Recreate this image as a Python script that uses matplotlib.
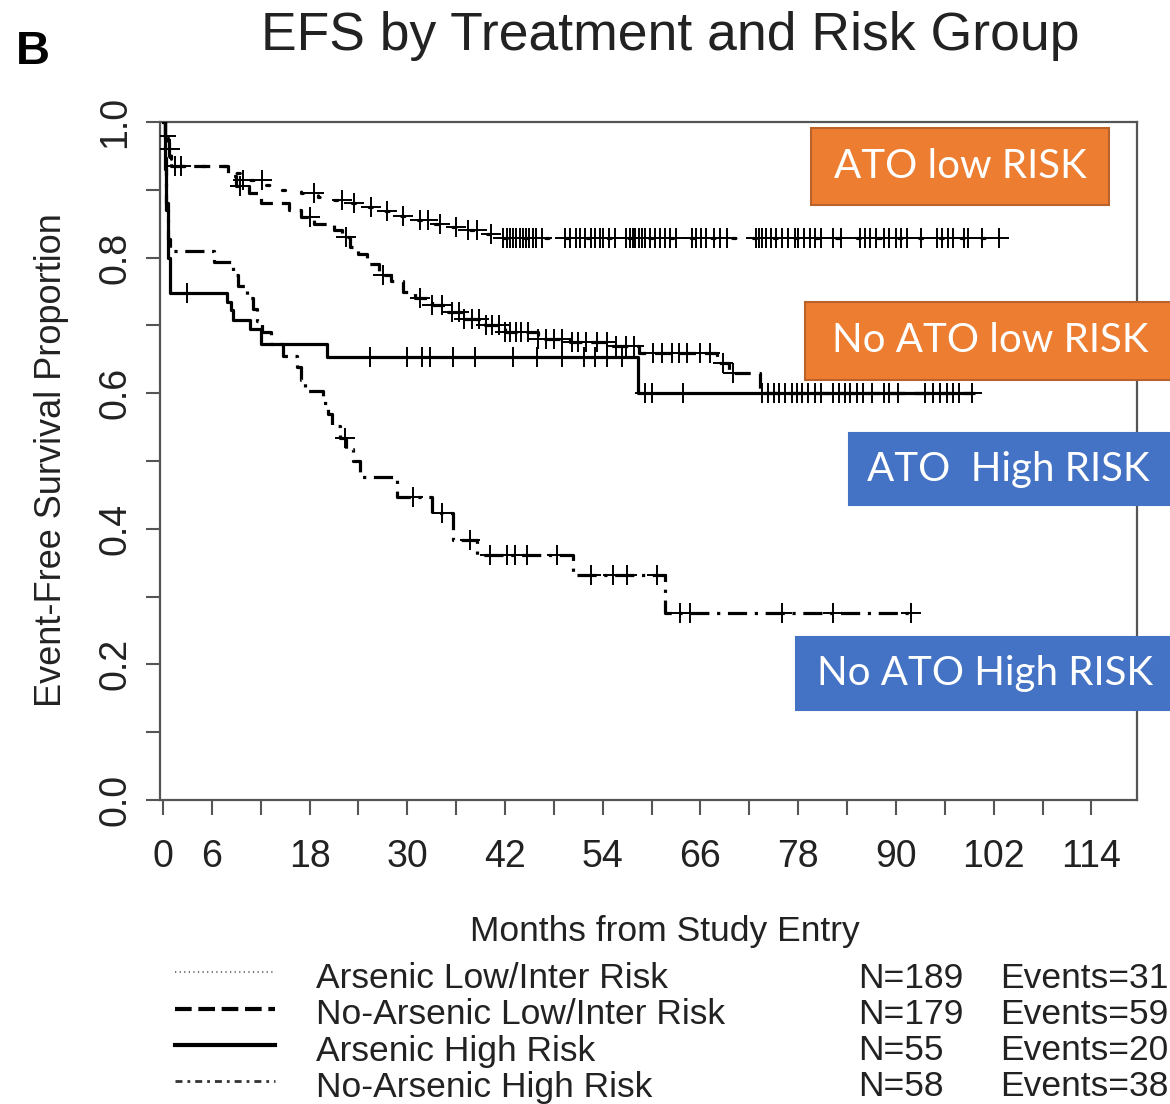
import numpy as np
import matplotlib
matplotlib.use('Agg')
import matplotlib.pyplot as plt
from matplotlib.lines import Line2D
from matplotlib.patches import Rectangle

W, H = 1170, 1104

# ---------------- data ----------------
# Kaplan-Meier knots: time (months) and survival after the step
ali_t = [0, 0.3, 0.6, 1.0, 8.5, 9.5, 12.5, 14, 17, 19, 21, 23, 25, 27, 29, 31, 33, 35, 37, 39, 40.5]
ali_s = [1.0, 0.98, 0.96, 0.935, 0.925, 0.915, 0.907, 0.90, 0.895, 0.89, 0.885, 0.88, 0.875, 0.868,
         0.862, 0.856, 0.85, 0.845, 0.84, 0.835, 0.829]
ali_end = 102.6
ali_cens = [0.4, 0.8, 1.5, 2.2, 9.8, 12.2, 18.5, 22, 23.5, 25.5, 27.5, 29.5, 31.5, 32.5, 34, 36, 37.5,
            38.5, 40.3, 41.8, 42.2, 42.6, 43.0, 43.4, 43.8, 44.2, 44.6, 45.0, 45.4, 45.8, 46.5, 49.4,
            50.0, 50.7, 51.2, 51.8, 52.5, 53.0, 53.6, 54.0, 54.8, 55.5, 56.9, 57.3, 57.7, 58.0, 58.4,
            58.8, 59.2, 59.8, 60.4, 61.0, 61.6, 62.3, 63.0, 64.9, 65.5, 66.1, 66.7, 67.7, 68.4, 69.2,
            72.8, 73.2, 73.6, 74.0, 74.6, 75.3, 76.0, 76.8, 77.6, 78.0, 78.7, 79.4, 80.1, 80.8, 82.3,
            83.3, 85.6, 86.2, 86.8, 87.5, 88.5, 89.2, 90.0, 90.6, 91.3, 93.1, 95.0, 95.7, 96.4, 97.0,
            98.3, 98.8, 100.6, 102.6]

nli_t = [0, 0.3, 0.7, 1.0, 8.0, 9.0, 10.5, 12, 15.5, 17, 18.5, 21, 22, 23, 24, 25, 26.5, 28, 29.5, 31,
         33, 35, 37, 39.5, 42, 46, 50, 55, 58.5, 68, 69.5, 73.3]
nli_s = [1.0, 0.97, 0.95, 0.935, 0.92, 0.905, 0.895, 0.88, 0.87, 0.86, 0.85, 0.84, 0.83, 0.815, 0.805,
         0.79, 0.775, 0.765, 0.75, 0.74, 0.73, 0.72, 0.71, 0.70, 0.69, 0.68, 0.675, 0.67, 0.66, 0.645,
         0.63, 0.60]
nli_end = 99.7
nli_cens = [9.5, 18.0, 22.5, 27.0, 31.5, 33.0, 34.2, 35.5, 36.3, 37.0, 38.0, 38.8, 39.6, 40.4, 41.2,
            42.0, 42.6, 43.3, 44.0, 44.8, 46.0, 47.0, 48.0, 49.0, 50.2, 51.0, 52.0, 53.3, 54.5, 55.6,
            56.8, 57.8, 60.2, 61.3, 62.5, 63.4, 64.4, 66.0, 67.2, 68.8, 70.0, 73.6, 74.3, 75.0, 75.7,
            76.4, 77.2, 77.9, 78.5, 79.2, 80.0, 80.8, 82.3, 83.0, 83.7, 84.4, 85.2, 86.0, 87.0, 88.5,
            89.2, 90.3, 93.6, 94.5, 95.4, 96.3, 97.0, 97.8, 99.3]

ah_t = [0, 0.2, 0.4, 0.6, 0.9, 7.9, 8.3, 8.6, 10.7, 12.0, 20.1, 58.3]
ah_s = [1.0, 0.93, 0.87, 0.80, 0.748, 0.735, 0.722, 0.708, 0.695, 0.672, 0.653, 0.60]
ah_end = 99.0
ah_cens = [2.9, 25.4, 30.0, 31.8, 32.8, 35.6, 38.3, 43.0, 45.9, 49.0, 51.7, 53.0, 54.5, 56.4,
           59.2, 60.0, 63.9]

nah_t = [0, 0.2, 0.4, 0.6, 0.8, 6.2, 8.6, 9.2, 10.3, 11.0, 11.6, 12.2, 13.3, 14.7, 16.4, 16.9, 17.4,
         19.7, 20.3, 20.8, 21.7, 22.5, 23.3, 24.2, 28.7, 33.0, 35.6, 38.5, 50.4, 61.7]
nah_s = [1.0, 0.95, 0.88, 0.828, 0.81, 0.793, 0.775, 0.758, 0.74, 0.724, 0.707, 0.69, 0.672, 0.655,
         0.638, 0.62, 0.603, 0.586, 0.569, 0.552, 0.534, 0.517, 0.50, 0.476, 0.447, 0.423, 0.383,
         0.361, 0.332, 0.276]
nah_end = 91.8
nah_cens = [22.4, 30.7, 34.3, 37.7, 40.2, 42.3, 43.2, 44.7, 48.4, 52.5, 55.3, 57.0, 60.7, 63.5, 64.7,
            76.0, 82.3, 91.8]

legend_labels = ["Arsenic Low/Inter Risk", "No-Arsenic Low/Inter Risk", "Arsenic High Risk",
                 "No-Arsenic High Risk"]
legend_n = ["N=189", "N=179", "N=55", "N=58"]
legend_events = ["Events=31", "Events=59", "Events=20", "Events=38"]

box_labels = ["ATO low RISK", "No ATO low RISK", "ATO  High RISK", "No ATO High RISK"]

x_ticks = list(range(0, 120, 6))
x_ticklabels = ["0", "6", "", "18", "", "30", "", "42", "", "54", "", "66", "", "78", "", "90", "",
                "102", "", "114"]
y_ticks = [round(0.1 * i, 1) for i in range(11)]
y_ticklabels = ["0.0", "", "0.2", "", "0.4", "", "0.6", "", "0.8", "", "1.0"]

# ---------------- figure ----------------
def fx(px):
    return px / W

def fy(py):
    return 1 - py / H

TXT = '#222222'
FAM = 'Liberation Sans'

fig = plt.figure(figsize=(W / 100, H / 100), dpi=100)
ax = fig.add_axes([fx(160), fy(800), fx(1137) - fx(160), fy(122) - fy(800)])

LW = 2.3
styles = {
    'ali': dict(ls=(0, (1.0, 5.5)), dash_capstyle='round'),
    'nli': dict(ls=(0, (5.0, 2.8))),
    'ah': dict(ls='-'),
    'nah': dict(ls=(0, (6.0, 2.4, 1.0, 2.4))),
}

def km_value(t_knots, s_knots, t):
    idx = np.searchsorted(np.asarray(t_knots), np.asarray(t), side='right') - 1
    return np.asarray(s_knots)[idx]

groups = [
    ('ali', ali_t, ali_s, ali_end, ali_cens),
    ('nli', nli_t, nli_s, nli_end, nli_cens),
    ('ah', ah_t, ah_s, ah_end, ah_cens),
    ('nah', nah_t, nah_s, nah_end, nah_cens),
]
for key, t, s, end, cens in groups:
    tt = list(t) + [end]
    ss = list(s) + [s[-1]]
    ax.step(tt, ss, where='post', color='black', lw=LW, **styles[key], zorder=3)
    ax.plot(cens, km_value(t, s, cens), ls='none', marker='+', ms=15, mew=1.4,
            color='black', zorder=4)

ax.set_xlim(-0.37, 119.6)
ax.set_ylim(0, 1.0)
ax.set_xticks(x_ticks)
ax.set_xticklabels(x_ticklabels)
ax.set_yticks(y_ticks)
ax.set_yticklabels(y_ticklabels)
for sp in ax.spines.values():
    sp.set_color('#555555')
    sp.set_linewidth(1.6)
ax.tick_params(axis='x', direction='out', length=11, width=1.5, color='#555555',
               labelsize=27, pad=17, labelcolor=TXT)
ax.tick_params(axis='y', direction='out', length=10, width=1.5, color='#555555',
               labelsize=27, pad=9, labelrotation=90, labelcolor=TXT)
for lab in ax.get_yticklabels():
    lab.set_verticalalignment('center')
for lab in ax.get_xticklabels() + ax.get_yticklabels():
    lab.set_fontfamily(FAM)

fig.text(fx(52), fy(460), "Event-Free Survival Proportion", rotation=90, ha='center', va='center',
         fontsize=26, family=FAM, color=TXT)
fig.text(fx(665), fy(932), "Months from Study Entry", ha='center', va='center',
         fontsize=25.5, family=FAM, color=TXT)
fig.text(fx(670), fy(36), "EFS by Treatment and Risk Group", ha='center', va='center',
         fontsize=38.5, family=FAM, color=TXT)
fig.text(fx(33), fy(52), "B", ha='center', va='center', fontsize=34, fontweight='bold',
         family=FAM, color='black')

# legend (drawn manually)
rows_y = [978, 1015, 1051, 1087]
leg_styles = [dict(ls=(0, (0.6, 1.6)), lw=1.5, color='#777777'),
              dict(ls=(0, (4.0, 1.6)), lw=3.0, color='black'),
              dict(ls='-', lw=3.0, color='black'),
              dict(ls=(0, (2.5, 1.8, 1.0, 1.8)), lw=2.0, color='#333333')]
for i, y in enumerate(rows_y):
    fig.add_artist(Line2D([fx(175), fx(275)], [fy(y - 6), fy(y - 6)], **leg_styles[i]))
    fig.text(fx(316), fy(y), legend_labels[i], ha='left', va='center', fontsize=25.5,
             family=FAM, color=TXT)
    fig.text(fx(858), fy(y), legend_n[i], ha='left', va='center', fontsize=25.5,
             family=FAM, color=TXT)
    fig.text(fx(1000), fy(y), legend_events[i], ha='left', va='center', fontsize=25.5,
             family=FAM, color=TXT)

# coloured annotation boxes
boxes = [(811, 128, 1109, 205, '#ED7D31', '#B9632A'),
         (805, 302, 1172, 380, '#ED7D31', '#B9632A'),
         (849, 433, 1172, 505, '#4472C4', '#4472C4'),
         (796, 637, 1172, 710, '#4472C4', '#4472C4')]
text_cx = [960, 990, 1008, 985]
for (x0, y0, x1, y1, fc, ec), lab, cx in zip(boxes, box_labels, text_cx):
    fig.add_artist(Rectangle((fx(x0), fy(y1)), fx(x1) - fx(x0), fy(y0) - fy(y1),
                             facecolor=fc, edgecolor=ec, lw=1.5, zorder=10))
    fig.text(fx(cx), fy((y0 + y1) / 2), lab, ha='center', va='center', fontsize=29,
             family='Lato', color='white', zorder=11)

fig.savefig('out.png', dpi=100)
